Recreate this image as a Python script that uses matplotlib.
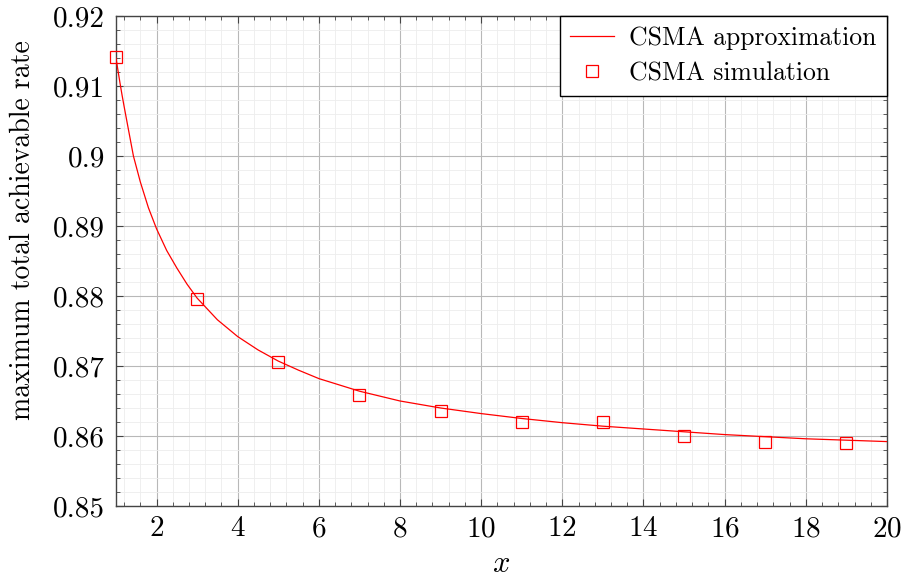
import numpy as np
import matplotlib
matplotlib.use("Agg")
import matplotlib.pyplot as plt
from matplotlib.ticker import MultipleLocator

plt.rcParams['font.family'] = ['cmr10', 'DejaVu Serif']
plt.rcParams['mathtext.fontset'] = 'cm'
plt.rcParams['axes.formatter.use_mathtext'] = True

# CSMA approximation curve
approx_x = [1, 1.05, 1.1, 1.15, 1.2, 1.3, 1.43, 1.6, 1.8, 2.0, 2.25, 2.5, 2.75, 3.0, 3.5,
            4.0, 4.5, 5.0, 5.5, 6, 7, 8, 9, 10, 11, 12, 13, 14, 15, 16, 17, 18, 19, 20]
approx_y = [0.9140, 0.9122, 0.9104, 0.9087, 0.9071, 0.9040, 0.9000, 0.8963, 0.8926,
            0.8896, 0.8865, 0.8840, 0.8817, 0.8797, 0.8766, 0.8742, 0.8723, 0.8707,
            0.8694, 0.8682, 0.8664, 0.8650, 0.8640, 0.8632, 0.8625, 0.8619, 0.8614,
            0.8610, 0.8606, 0.8602, 0.8599, 0.8596, 0.8594, 0.8592]

# CSMA simulation points
sim_x = [1, 3, 5, 7, 9, 11, 13, 15, 17, 19]
sim_y = [0.9141, 0.8796, 0.8706, 0.8659, 0.8636, 0.8620, 0.8620, 0.8600, 0.8591, 0.8590]

fig = plt.figure(figsize=(9.06, 5.78), dpi=100)
ax = fig.add_axes([0.128, 0.1246, 0.851, 0.8477])

ax.plot(approx_x, approx_y, color='red', lw=0.9, label='CSMA approximation', zorder=3)
ax.plot(sim_x, sim_y, ls='none', marker='s', ms=8, mfc='none', mec='red', mew=0.9,
        label='CSMA simulation', zorder=4, clip_on=False)

ax.set_xlim(1, 20)
ax.set_ylim(0.85, 0.92)
ax.xaxis.set_major_locator(MultipleLocator(2))
ax.xaxis.set_minor_locator(MultipleLocator(0.4))
ax.yaxis.set_minor_locator(MultipleLocator(0.002))
ax.set_yticks([0.85, 0.86, 0.87, 0.88, 0.89, 0.9, 0.91, 0.92])
ax.set_yticklabels(['0.85', '0.86', '0.87', '0.88', '0.89', '0.9', '0.91', '0.92'])

ax.grid(which='major', color='#b8b8b8', lw=0.8)
ax.grid(which='minor', color='#ededed', lw=0.6)
ax.set_axisbelow(True)

ax.tick_params(which='both', direction='in', top=True, right=True, colors='#444444',
               labelcolor='black', labelsize=21)
ax.tick_params(axis='y', which='major', length=5, width=0.8, pad=8)
ax.tick_params(axis='x', which='major', length=5, width=0.8, pad=7)
ax.tick_params(which='minor', length=3, width=0.6)
for s in ax.spines.values():
    s.set_color('#444444')
    s.set_linewidth(1.0)

ax.set_xlabel('$x$', fontsize=22, labelpad=6)
ax.set_ylabel('maximum total achievable rate', fontsize=20)
ax.yaxis.set_label_coords(-0.104, 0.563)

leg = ax.legend(loc='upper right', fontsize=18.5, fancybox=False, framealpha=1,
                edgecolor='black', borderaxespad=0.0, handlelength=1.7,
                borderpad=0.4, labelspacing=0.45, handletextpad=0.6)
leg.get_frame().set_linewidth(1.0)

fig.savefig('out.png', dpi=100)
